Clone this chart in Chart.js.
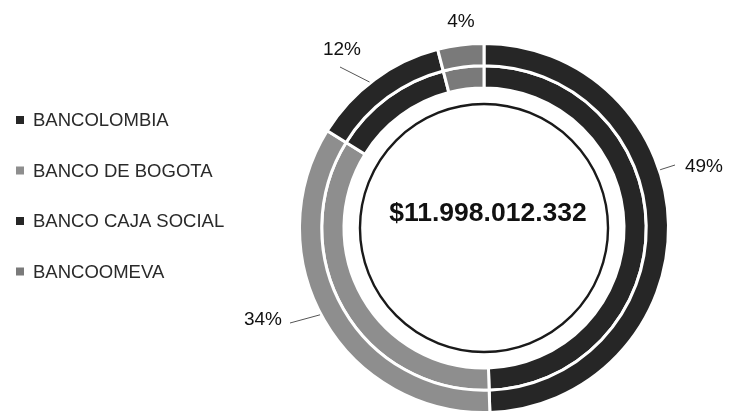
<!DOCTYPE html>
<html>
<head>
<meta charset="utf-8">
<script src="https://cdn.jsdelivr.net/npm/chart.js@4.4.0/dist/chart.umd.min.js"></script>
<style>
  html,body{margin:0;padding:0;background:#fff;}
  #wrap{position:relative;width:736px;height:414px;}
</style>
</head>
<body>
<div id="wrap"><canvas id="c" width="736" height="414"></canvas></div>
<script>
// ---- data ----
const categories = ['BANCOLOMBIA', 'BANCO DE BOGOTA', 'BANCO CAJA SOCIAL', 'BANCOOMEVA'];
const outerShares = [49, 34, 12, 4];
const innerShares = [49, 34, 12, 4];
const percentLabels = ['49%', '34%', '12%', '4%'];
const totalLabel = '$11.998.012.332';

// ---- styling ----
const colors = ['#262626', '#8e8e8e', '#262626', '#7a7a7a'];
// label placement relative to chart centre (px), leader from ring angle
const labelLayout = [
  {dx: 220, dy: -61, ring: 71.7, end: [191, -63]},
  {dx: -221, dy: 92, ring: 242.1, end: [-194, 95]},
  {dx: -142, dy: -178, ring: 321.9, end: [-144, -161]},
  {dx: -23, dy: -206, ring: null, end: null}
];

const overlay = {
  id: 'overlay',
  afterDatasetsDraw(chart) {
    const ctx = chart.ctx;
    const arc = chart.getDatasetMeta(0).data[0];
    const cx = arc.x, cy = arc.y, R = arc.outerRadius;
    const innerArc = chart.getDatasetMeta(1).data[0];
    ctx.save();
    // inner thin circle
    ctx.beginPath();
    ctx.arc(cx, cy, innerArc.innerRadius - 16, 0, Math.PI * 2);
    ctx.lineWidth = 2.4;
    ctx.strokeStyle = '#1a1a1a';
    ctx.stroke();
    // centre total
    ctx.fillStyle = '#111';
    ctx.font = 'bold 26.5px "Liberation Sans", Arial, sans-serif';
    ctx.textAlign = 'center';
    ctx.textBaseline = 'middle';
    ctx.fillText(totalLabel, cx + 4, cy - 14);
    // percentage labels + leaders
    ctx.font = '19px "Liberation Sans", Arial, sans-serif';
    percentLabels.forEach((t, i) => {
      const L = labelLayout[i];
      if (L.ring !== null) {
        const a = L.ring * Math.PI / 180;
        ctx.beginPath();
        ctx.moveTo(cx + Math.sin(a) * (R + 1), cy - Math.cos(a) * (R + 1));
        ctx.lineTo(cx + L.end[0], cy + L.end[1]);
        ctx.lineWidth = 1;
        ctx.strokeStyle = '#555';
        ctx.stroke();
      }
      ctx.fillStyle = '#111';
      ctx.fillText(t, cx + L.dx, cy + L.dy);
    });
    // legend
    ctx.textAlign = 'left';
    ctx.font = '18.5px "Liberation Sans", Arial, sans-serif';
    categories.forEach((name, i) => {
      const y = 120 + i * 50.5;
      ctx.fillStyle = colors[i];
      ctx.fillRect(16, y - 4, 8, 8);
      ctx.fillStyle = '#2a2a2a';
      ctx.fillText(name, 33, y + 1);
    });
    ctx.restore();
  }
};

new Chart(document.getElementById('c'), {
  type: 'doughnut',
  data: {
    labels: categories,
    datasets: [
      {data: outerShares, backgroundColor: colors, borderColor: '#fff', borderWidth: 3},
      {data: innerShares, backgroundColor: colors, borderColor: '#fff', borderWidth: 3}
    ]
  },
  options: {
    responsive: false,
    animation: false,
    cutout: '75.9%',
    layout: {padding: {left: 298, right: 66, top: 42, bottom: 0}},
    plugins: {legend: {display: false}, tooltip: {enabled: false}}
  },
  plugins: [overlay]
});
</script>
</body>
</html>
